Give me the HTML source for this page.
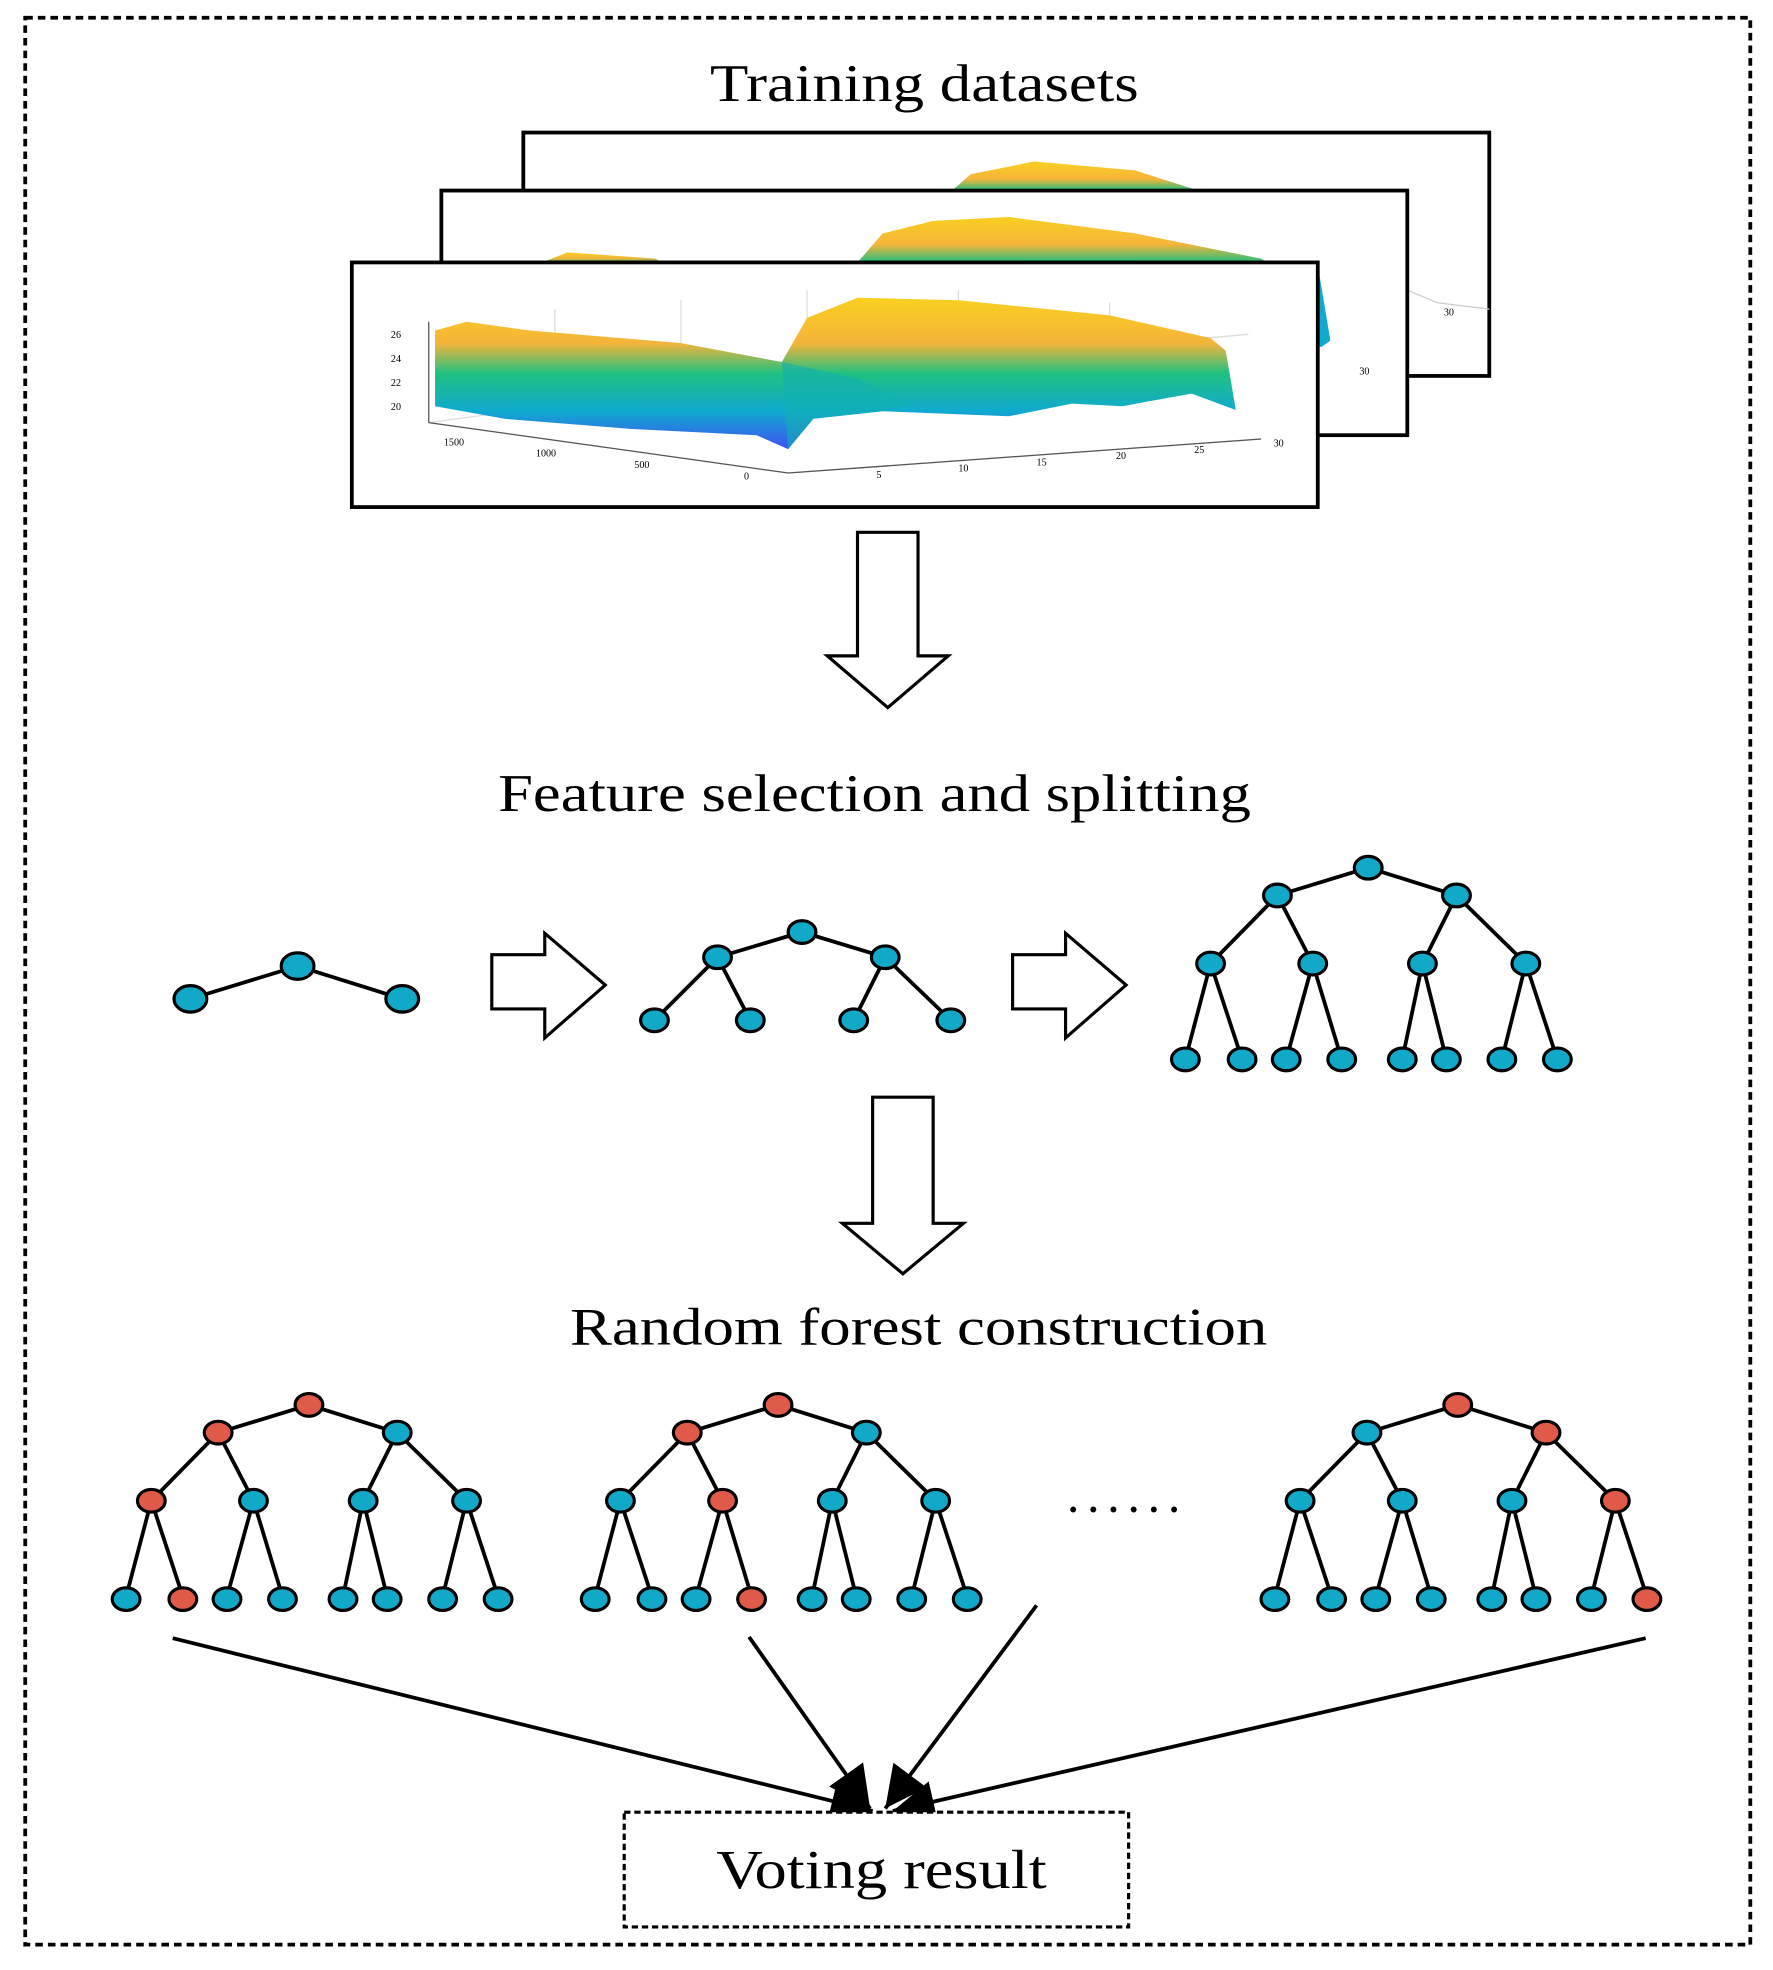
<!DOCTYPE html>
<html><head><meta charset="utf-8"><style>
html,body{margin:0;padding:0;background:#fff}
svg{display:block}
text{font-family:"Liberation Serif",serif;fill:#000}
</style></head><body>
<svg width="1773" height="1970" viewBox="0 0 1406 1562" xmlns="http://www.w3.org/2000/svg">
<defs>
<linearGradient id="sf" x1="0" y1="0" x2="0" y2="1">
<stop offset="0" stop-color="#f8d020"/><stop offset="0.3" stop-color="#f5b43a"/>
<stop offset="0.5" stop-color="#20c080"/><stop offset="0.75" stop-color="#10aad0"/><stop offset="1" stop-color="#4050f0"/>
</linearGradient>
<linearGradient id="sf2" x1="0" y1="0" x2="0" y2="1">
<stop offset="0" stop-color="#f8d020"/><stop offset="0.6" stop-color="#f5b43a"/><stop offset="1" stop-color="#20c080"/>
</linearGradient>
<marker id="ah" viewBox="0 0 10 10" refX="10" refY="5" markerWidth="11" markerHeight="11" markerUnits="strokeWidth" orient="auto"><path d="M0,0 L10,5 L0,10 z" fill="#000"/></marker>
<g id="edges" stroke="#000" stroke-width="3" fill="none">
<path d="M1085,688 L1013,710 M1085,688 L1155,710 M1013,710 L960,764 M1013,710 L1041,764 M1155,710 L1128,764 M1155,710 L1210,764 M960,764 L940,840 M960,764 L985,840 M1041,764 L1020,840 M1041,764 L1064,840 M1128,764 L1112,840 M1128,764 L1147,840 M1210,764 L1191,840 M1210,764 L1235,840"/>
</g>
</defs>
<rect x="20" y="14" width="1368" height="1528" fill="none" stroke="#000" stroke-width="3" stroke-dasharray="6,4"/>
<text x="563" y="80" font-size="42" textLength="340" lengthAdjust="spacingAndGlyphs">Training datasets</text>

<!-- back box -->
<rect x="415" y="105" width="766" height="193" fill="#fff" stroke="#000" stroke-width="3"/>
<path d="M755,151 L770,138 L820,128 L900,135 L950,151 Z" fill="url(#sf2)"/>
<path d="M1116,230 L1140,240 L1181,245" stroke="#ccc" fill="none"/>
<text x="1145" y="250" font-size="8" font-family="Liberation Sans">30</text>
<!-- middle box -->
<rect x="350" y="151" width="766" height="194" fill="#fff" stroke="#000" stroke-width="3"/>
<path d="M680,208 L700,185 L740,175 L800,172 L900,185 L1000,205 L1005,208 Z" fill="url(#sf2)"/>
<path d="M430,208 L450,200 L520,205 L525,208 Z" fill="url(#sf2)"/>
<path d="M1045,210 L1050,240 L1055,270 L1048,275 L1045,275 Z" fill="#10aad0"/>
<text x="1078" y="297" font-size="8" font-family="Liberation Sans">30</text>
<!-- front box -->
<rect x="279" y="208" width="766" height="194" fill="#fff" stroke="#000" stroke-width="3"/>
<g stroke="#ddd" stroke-width="1" fill="none">
<path d="M340,258 L340,335 L625,375 L1000,348"/>
<path d="M340,335 L600,300 L990,265"/>
<path d="M440,245 L440,320 M540,238 L540,310 M640,230 L640,300 M760,230 L760,300 M880,240 L880,310"/>
</g>
<path d="M345,262 L370,255 L420,262 L540,272 L620,287 L640,252 L680,236 L760,238 L880,250 L960,268 L972,278 L980,325 L945,312 L890,322 L850,320 L800,330 L700,326 L645,332 L625,356 L600,345 L500,340 L400,332 L345,322 Z" fill="url(#sf)"/>
<path d="M620,287 L680,300 L720,320 L700,326 L645,332 L625,356 Z" fill="#10b0b0" opacity="0.6"/>
<g font-family="Liberation Sans" font-size="8" fill="#333">
<text x="310" y="268">26</text><text x="310" y="287">24</text><text x="310" y="306">22</text><text x="310" y="325">20</text>
<text x="352" y="353">1500</text><text x="425" y="362">1000</text><text x="503" y="371">500</text><text x="590" y="380">0</text>
<text x="695" y="379">5</text><text x="760" y="374">10</text><text x="822" y="369">15</text><text x="885" y="364">20</text><text x="947" y="359">25</text><text x="1010" y="354">30</text>
</g>
<path d="M340,335 L625,375 L1000,348" stroke="#555" stroke-width="1" fill="none"/>
<path d="M340,255 L340,335" stroke="#555" stroke-width="1"/>

<!-- down arrow 1 -->
<path d="M680,422 L728,422 L728,520 L752,520 L704,561 L656,520 L680,520 Z" fill="#fff" stroke="#000" stroke-width="2.5"/>
<text x="395" y="643" font-size="42" textLength="597" lengthAdjust="spacingAndGlyphs">Feature selection and splitting</text>

<g stroke="#000" stroke-width="3" fill="none">
<path d="M151,792 L236,766 L319,792"/>
<path d="M519,809 L569,759 L595,809 M569,759 L636,739 L702,759 L677,809 M702,759 L754,809"/>
</g>
<g fill="#12a8c8" stroke="#000" stroke-width="2.5">
<ellipse cx="151" cy="792" rx="13" ry="10.5"/><ellipse cx="236" cy="766" rx="13" ry="10.5"/><ellipse cx="319" cy="792" rx="13" ry="10.5"/>
<ellipse cx="636" cy="739" rx="11" ry="9"/><ellipse cx="569" cy="759" rx="11" ry="9"/><ellipse cx="702" cy="759" rx="11" ry="9"/>
<ellipse cx="519" cy="809" rx="11" ry="9"/><ellipse cx="595" cy="809" rx="11" ry="9"/><ellipse cx="677" cy="809" rx="11" ry="9"/><ellipse cx="754" cy="809" rx="11" ry="9"/>
</g>
<path d="M390,757 L432,757 L432,740 L480,781 L432,823 L432,800 L390,800 Z" fill="#fff" stroke="#000" stroke-width="2.5"/>
<path d="M803,757 L845,757 L845,740 L893,781 L845,823 L845,800 L803,800 Z" fill="#fff" stroke="#000" stroke-width="2.5"/>

<use href="#edges"/>
<g stroke="#000" stroke-width="2.5" fill="#12a8c8">
<ellipse cx="1085" cy="688" rx="11" ry="9"/><ellipse cx="1013" cy="710" rx="11" ry="9"/><ellipse cx="1155" cy="710" rx="11" ry="9"/>
<ellipse cx="960" cy="764" rx="11" ry="9"/><ellipse cx="1041" cy="764" rx="11" ry="9"/><ellipse cx="1128" cy="764" rx="11" ry="9"/><ellipse cx="1210" cy="764" rx="11" ry="9"/>
<ellipse cx="940" cy="840" rx="11" ry="9"/><ellipse cx="985" cy="840" rx="11" ry="9"/><ellipse cx="1020" cy="840" rx="11" ry="9"/><ellipse cx="1064" cy="840" rx="11" ry="9"/>
<ellipse cx="1112" cy="840" rx="11" ry="9"/><ellipse cx="1147" cy="840" rx="11" ry="9"/><ellipse cx="1191" cy="840" rx="11" ry="9"/><ellipse cx="1235" cy="840" rx="11" ry="9"/>
</g>

<path d="M692,870 L740,870 L740,970 L764,970 L716,1010 L668,970 L692,970 Z" fill="#fff" stroke="#000" stroke-width="2.5"/>
<text x="452" y="1066" font-size="42" textLength="553" lengthAdjust="spacingAndGlyphs">Random forest construction</text>

<!-- forest tree A -->
<g transform="translate(-840,426)">
<use href="#edges"/>
<g stroke="#000" stroke-width="2.5" fill="#12a8c8">
<ellipse cx="1085" cy="688" rx="11" ry="9" fill="#e05a4a"/><ellipse cx="1013" cy="710" rx="11" ry="9" fill="#e05a4a"/><ellipse cx="1155" cy="710" rx="11" ry="9"/>
<ellipse cx="960" cy="764" rx="11" ry="9" fill="#e05a4a"/><ellipse cx="1041" cy="764" rx="11" ry="9"/><ellipse cx="1128" cy="764" rx="11" ry="9"/><ellipse cx="1210" cy="764" rx="11" ry="9"/>
<ellipse cx="940" cy="842" rx="11" ry="9"/><ellipse cx="985" cy="842" rx="11" ry="9" fill="#e05a4a"/><ellipse cx="1020" cy="842" rx="11" ry="9"/><ellipse cx="1064" cy="842" rx="11" ry="9"/>
<ellipse cx="1112" cy="842" rx="11" ry="9"/><ellipse cx="1147" cy="842" rx="11" ry="9"/><ellipse cx="1191" cy="842" rx="11" ry="9"/><ellipse cx="1235" cy="842" rx="11" ry="9"/>
</g></g>
<!-- forest tree B -->
<g transform="translate(-468,426)">
<use href="#edges"/>
<g stroke="#000" stroke-width="2.5" fill="#12a8c8">
<ellipse cx="1085" cy="688" rx="11" ry="9" fill="#e05a4a"/><ellipse cx="1013" cy="710" rx="11" ry="9" fill="#e05a4a"/><ellipse cx="1155" cy="710" rx="11" ry="9"/>
<ellipse cx="960" cy="764" rx="11" ry="9"/><ellipse cx="1041" cy="764" rx="11" ry="9" fill="#e05a4a"/><ellipse cx="1128" cy="764" rx="11" ry="9"/><ellipse cx="1210" cy="764" rx="11" ry="9"/>
<ellipse cx="940" cy="842" rx="11" ry="9"/><ellipse cx="985" cy="842" rx="11" ry="9"/><ellipse cx="1020" cy="842" rx="11" ry="9"/><ellipse cx="1064" cy="842" rx="11" ry="9" fill="#e05a4a"/>
<ellipse cx="1112" cy="842" rx="11" ry="9"/><ellipse cx="1147" cy="842" rx="11" ry="9"/><ellipse cx="1191" cy="842" rx="11" ry="9"/><ellipse cx="1235" cy="842" rx="11" ry="9"/>
</g></g>
<!-- forest tree C -->
<g transform="translate(71,426)">
<use href="#edges"/>
<g stroke="#000" stroke-width="2.5" fill="#12a8c8">
<ellipse cx="1085" cy="688" rx="11" ry="9" fill="#e05a4a"/><ellipse cx="1013" cy="710" rx="11" ry="9"/><ellipse cx="1155" cy="710" rx="11" ry="9" fill="#e05a4a"/>
<ellipse cx="960" cy="764" rx="11" ry="9"/><ellipse cx="1041" cy="764" rx="11" ry="9"/><ellipse cx="1128" cy="764" rx="11" ry="9"/><ellipse cx="1210" cy="764" rx="11" ry="9" fill="#e05a4a"/>
<ellipse cx="940" cy="842" rx="11" ry="9"/><ellipse cx="985" cy="842" rx="11" ry="9"/><ellipse cx="1020" cy="842" rx="11" ry="9"/><ellipse cx="1064" cy="842" rx="11" ry="9"/>
<ellipse cx="1112" cy="842" rx="11" ry="9"/><ellipse cx="1147" cy="842" rx="11" ry="9"/><ellipse cx="1191" cy="842" rx="11" ry="9"/><ellipse cx="1235" cy="842" rx="11" ry="9" fill="#e05a4a"/>
</g></g>
<text x="846" y="1199" font-size="40" textLength="90" lengthAdjust="spacing">......</text>

<g stroke="#000" stroke-width="3" fill="none" marker-end="url(#ah)">
<path d="M137,1299 L692,1436"/>
<path d="M594,1298 L690,1434"/>
<path d="M822,1273 L702,1434"/>
<path d="M1305,1299 L708,1436"/>
</g>
<rect x="495" y="1437" width="400" height="91" fill="#fff" stroke="#000" stroke-width="2.5" stroke-dasharray="5,3"/>
<text x="568" y="1497" font-size="44" textLength="262" lengthAdjust="spacingAndGlyphs">Voting result</text>
</svg>
</body></html>
